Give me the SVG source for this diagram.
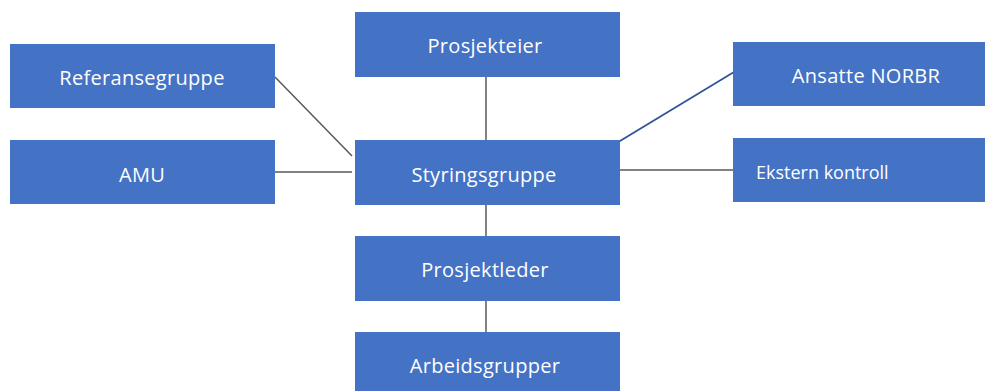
<svg xmlns="http://www.w3.org/2000/svg" width="985" height="391" viewBox="0 0 985 391">
<style>
.box{fill:#4472C4}
.t{font-family:"Open Sans","Noto Sans","Liberation Sans",sans-serif;font-size:20px;letter-spacing:0.3px;fill:#ffffff;text-anchor:middle}
.c{stroke:#595959;stroke-width:1.5;fill:none}
.cb{stroke:#2F5597;stroke-width:1.8;fill:none}
</style>
<rect width="985" height="391" fill="#ffffff"/>
<g id="connectors">
<line class="c" x1="275" y1="77" x2="352" y2="156"/>
<line class="c" x1="275" y1="172" x2="352" y2="172"/>
<line class="c" x1="486" y1="77" x2="486" y2="140"/>
<line class="c" x1="486" y1="205" x2="486" y2="236"/>
<line class="c" x1="486" y1="301" x2="486" y2="332"/>
<line class="cb" x1="734" y1="72" x2="615" y2="144"/>
<line class="c" x1="618" y1="170" x2="733" y2="170"/>
</g>
<g id="referansegruppe"><rect class="box" x="10" y="44" width="265" height="64"/><text class="t" x="142" y="85">Referansegruppe</text></g>
<g id="amu"><rect class="box" x="10" y="140" width="265" height="64"/><text class="t" x="142" y="182">AMU</text></g>
<g id="prosjekteier"><rect class="box" x="355" y="12" width="265" height="65"/><text class="t" x="485" y="53">Prosjekteier</text></g>
<g id="styringsgruppe"><rect class="box" x="355" y="140" width="265" height="65"/><text class="t" x="484" y="182">Styringsgruppe</text></g>
<g id="prosjektleder"><rect class="box" x="355" y="236" width="265" height="65"/><text class="t" x="485" y="277">Prosjektleder</text></g>
<g id="arbeidsgrupper"><rect class="box" x="355" y="332" width="265" height="65"/><text class="t" x="485" y="373">Arbeidsgrupper</text></g>
<g id="ansatte"><rect class="box" x="733" y="42" width="252" height="64"/><text class="t" x="866" y="83">Ansatte NORBR</text></g>
<g id="ekstern"><rect class="box" x="733" y="138" width="252" height="64"/><text class="t" x="756" y="179" style="text-anchor:start;font-size:18px;letter-spacing:0px">Ekstern kontroll</text></g>
</svg>
